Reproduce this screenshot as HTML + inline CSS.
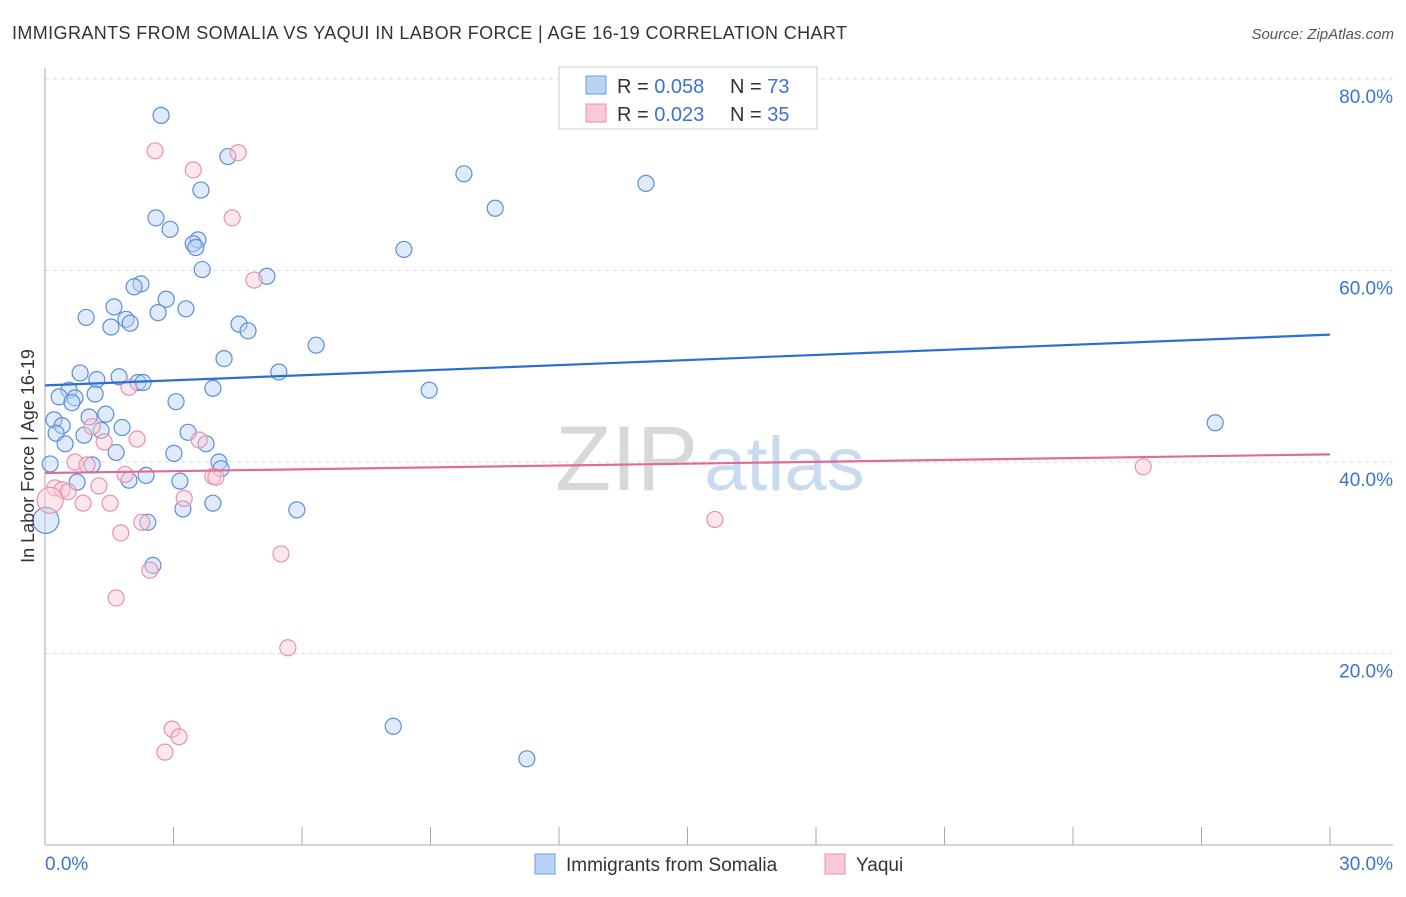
<!DOCTYPE html>
<html><head><meta charset="utf-8"><style>
body{margin:0;background:#fff;font-family:"Liberation Sans",sans-serif;}
svg text{font-family:"Liberation Sans",sans-serif;}
</style></head><body>
<svg id="chart" width="1406" height="892" xmlns="http://www.w3.org/2000/svg">
<text x="12" y="39" font-size="18" fill="#333" textLength="835" lengthAdjust="spacing">IMMIGRANTS FROM SOMALIA VS YAQUI IN LABOR FORCE | AGE 16-19 CORRELATION CHART</text>
<text x="1394" y="39" font-size="15" fill="#555" text-anchor="end" font-style="italic">Source: ZipAtlas.com</text>
<text x="555" y="490" font-size="92" fill="#d8d8d8" font-family="Liberation Serif">ZIP<tspan fill="#c9dbef" font-family="Liberation Sans" font-size="76" dx="6">atlas</tspan></text>
<g id="grid"></g><g id="axes"></g><g id="marks"></g>
<text transform="translate(34,456) rotate(-90)" font-size="18" fill="#333" text-anchor="middle">In Labor Force | Age 16-19</text>
<g>
<rect x="559" y="67" width="258" height="62" fill="#fff" stroke="#ccc"/>
<rect x="586" y="76" width="20" height="18" fill="#b8d3f5" stroke="#6d9fde"/>
<rect x="586" y="104" width="20" height="18" fill="#f9c9d8" stroke="#e891ad"/>
<text x="617" y="93" font-size="20" fill="#333">R = <tspan fill="#3a74d0">0.058</tspan></text>
<text x="730" y="93" font-size="20" fill="#333">N = <tspan fill="#3a74d0">73</tspan></text>
<text x="617" y="121" font-size="20" fill="#333">R = <tspan fill="#3a74d0">0.023</tspan></text>
<text x="730" y="121" font-size="20" fill="#333">N = <tspan fill="#3a74d0">35</tspan></text>
</g>
<g>
<rect x="535" y="854" width="20" height="20" fill="#b8d3f5" stroke="#6d9fde"/>
<text x="566" y="871" font-size="19" fill="#333">Immigrants from Somalia</text>
<rect x="825" y="854" width="20" height="20" fill="#f9c9d8" stroke="#e891ad"/>
<text x="856" y="871" font-size="19" fill="#333">Yaqui</text>
</g>
</svg>
<script>
const somaliaX=[2.71,4.27,9.78,14.03,3.64,10.51,2.59,2.92,3.57,3.46,3.52,8.38,3.67,5.18,2.24,2.08,2.83,1.61,3.29,2.64,0.96,1.89,1.99,4.53,1.54,4.74,6.33,4.18,0.82,5.46,1.73,1.21,2.17,2.29,3.92,8.97,0.56,1.17,0.33,0.70,0.63,3.06,1.03,1.42,0.21,0.40,27.32,1.80,1.31,3.34,0.26,0.91,3.76,0.47,1.66,3.01,4.06,0.12,1.10,4.11,2.36,1.96,3.15,0.75,3.92,3.22,5.88,2.40,0.02,2.52,8.13,11.25];
const somaliaY=[76.2,71.9,70.1,69.1,68.4,66.5,65.5,64.3,63.2,62.8,62.4,62.2,60.1,59.4,58.6,58.3,57.0,56.2,56.0,55.6,55.1,54.9,54.5,54.4,54.1,53.7,52.2,50.8,49.3,49.4,48.9,48.6,48.3,48.3,47.7,47.5,47.5,47.1,46.8,46.7,46.2,46.3,44.7,45.0,44.4,43.8,44.1,43.6,43.3,43.1,43.0,42.8,41.9,41.9,41.0,40.9,40.0,39.8,39.7,39.3,38.6,38.1,38.0,37.9,35.7,35.1,35.0,33.7,33.9,29.2,12.4,9.0];
const yaquiX=[2.57,4.51,3.46,4.37,4.88,1.96,1.10,1.38,2.15,3.60,0.70,0.98,1.87,3.92,3.99,0.23,0.40,0.54,1.26,0.12,3.25,0.89,1.52,2.26,1.77,15.64,25.64,5.51,2.45,1.66,5.67,2.97,3.13,2.80];
const yaquiY=[72.5,72.3,70.5,65.5,59.0,47.8,43.7,42.1,42.4,42.3,40.0,39.7,38.7,38.5,38.4,37.3,37.1,36.9,37.5,36.0,36.2,35.7,35.7,33.7,32.6,34.0,39.5,30.4,28.7,25.8,20.6,12.1,11.3,9.7];
const somaliaTrend=[48.0,53.3];
const yaquiTrend=[38.85,40.8];
const yTicks=[20,40,60,80];
const yTickLabels=["20.0%","40.0%","60.0%","80.0%"];
const xTicks=[0,3,6,9,12,15,18,21,24,27,30];

const NS="http://www.w3.org/2000/svg";
const X=v=>45+v/30*1285;
const Y=v=>845-v/20*191.5;
function mk(parent,tag,attrs){const e=document.createElementNS(NS,tag);for(const k in attrs)e.setAttribute(k,attrs[k]);document.getElementById(parent).appendChild(e);return e;}
yTicks.forEach((t,i)=>{
 const g=mk('grid','line',{x1:45,x2:1393,y1:Y(t),y2:Y(t),stroke:'#ddd','stroke-dasharray':'4,4'});
 
 
 const tx=mk('axes','text',{x:1393,y:Y(t)+24,'font-size':19,fill:'#3a74d0','text-anchor':'end'});
 tx.textContent=yTickLabels[i];
 
 
});
const ax=mk('axes','line',{x1:45,x2:45,y1:68,y2:845,stroke:'#aaa'});


const bx=mk('axes','line',{x1:45,x2:1393,y1:845,y2:845,stroke:'#aaa'});


xTicks.forEach(t=>{
 const l=mk('axes','line',{x1:X(t),x2:X(t),y1:827,y2:845,stroke:'#aaa'});
 
 
});
const xl0=mk('axes','text',{x:45,y:870,'font-size':19,fill:'#3a74d0'});xl0.textContent='0.0%';


const xl1=mk('axes','text',{x:1393,y:870,'font-size':19,fill:'#3a74d0','text-anchor':'end'});xl1.textContent='30.0%';


function pts(xs,ys,fill,stroke,name,bigBelow){
 xs.forEach((x,i)=>{
  const r=(x<bigBelow)?13:8;
  const c=mk('marks','circle',{cx:X(x),cy:Y(ys[i]),r:r,fill:fill,'fill-opacity':0.45,stroke:stroke,'stroke-width':1.2});
  
  
 });
}
pts(somaliaX,somaliaY,'#b8d3f5','#5b8fd6','somalia-point',0.05);
pts(yaquiX,yaquiY,'#f9c9d8','#e891ad','yaqui-point',0.15);
const t1=mk('marks','line',{x1:X(0),x2:X(30),y1:Y(somaliaTrend[0]),y2:Y(somaliaTrend[1]),stroke:'#2b6fd6','stroke-width':2.2});


const t2=mk('marks','line',{x1:X(0),x2:X(30),y1:Y(yaquiTrend[0]),y2:Y(yaquiTrend[1]),stroke:'#e06b95','stroke-width':2.2});


</script>
</body></html>
